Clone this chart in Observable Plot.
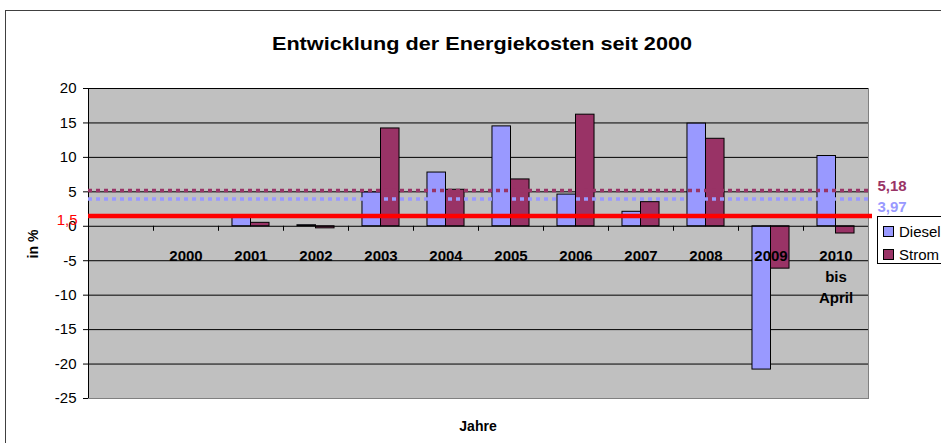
<!DOCTYPE html>
<html><head><meta charset="utf-8">
<script src="https://cdn.jsdelivr.net/npm/d3@7"></script>
<script src="https://cdn.jsdelivr.net/npm/@observablehq/plot@0.6"></script>
<style>
body{margin:0;background:#fff;font-family:"Liberation Sans",Arial,sans-serif;overflow:hidden;}
#wrap{position:relative;width:941px;height:443px;overflow:hidden;background:#fff;}
#border{position:absolute;left:5px;top:10px;width:1000px;height:500px;border:1.5px solid #404040;box-sizing:border-box;}
#chart{position:absolute;left:0;top:0;}
.abs{position:absolute;white-space:nowrap;line-height:1;color:#000;}
#title{left:482px;top:34px;transform:translateX(-50%) scaleX(1.14);font-weight:bold;font-size:19px;}
#xlab{left:478px;top:419px;transform:translateX(-50%);font-weight:bold;font-size:14px;}
#ylab{left:33px;top:244px;transform:translate(-50%,-50%) rotate(-90deg);font-weight:bold;font-size:14px;}
#legend{position:absolute;left:877px;top:216px;width:90px;height:48px;border:1px solid #000;background:#fff;box-sizing:border-box;}
.li{position:absolute;left:5px;font-size:15px;line-height:1;white-space:nowrap;}
.sw{display:inline-block;width:9px;height:9px;border:1px solid #000;margin-right:5px;vertical-align:0px;}
</style>
</head><body>
<div id="wrap">
  <div id="border"></div>
  <div id="chart"></div>
  <div id="title" class="abs">Entwicklung der Energiekosten seit 2000</div>
  <div id="xlab" class="abs">Jahre</div>
  <div id="ylab" class="abs">in %</div>
  <div id="legend"></div>
</div>
<script>
// Categories (first slot is an empty category, as in the original)
const categories = ["", "2000", "2001", "2002", "2003", "2004", "2005", "2006", "2007", "2008", "2009", "2010"];
const xLabels    = ["", "2000", "2001", "2002", "2003", "2004", "2005", "2006", "2007", "2008", "2009", "2010\nbis\nApril"];
const years      = ["2000", "2001", "2002", "2003", "2004", "2005", "2006", "2007", "2008", "2009", "2010"];
const diesel     = [0, 1.4, 0.15, 4.9, 7.8, 14.5, 4.6, 2.1, 14.9, -20.8, 10.2];
const strom      = [0, 0.5, -0.3, 14.2, 5.3, 6.8, 16.2, 3.5, 12.7, -6.15, -1.05];
const seriesNames = ["Diesel", "Strom"];
const seriesColors = ["#9999FF", "#993366"];
const avgValues = [5.18, 3.97];
const avgLabels = ["5,18", "3,97"];
const avgColors = ["#993366", "#9999FF"];
const target = 1.5;
const targetLabel = "1,5";
const yTicks = [-25, -20, -15, -10, -5, 0, 5, 10, 15, 20];
const gridValues = [-20, -15, -10, -5, 5, 10, 15, 20];

const W = 941, H = 443, ML = 88, MR = 73, MT = 88, MB = 45;
const bw = (W - ML - MR) / categories.length;
const barW = bw * 0.285;

const dRows = years.map((c, i) => ({cat: c, v: diesel[i]}));
const sRows = years.map((c, i) => ({cat: c, v: strom[i]}));

const chart = Plot.plot({
  width: W, height: H,
  marginLeft: ML, marginRight: MR, marginTop: MT, marginBottom: MB,
  style: {background: "transparent", fontFamily: "Liberation Sans, Arial, sans-serif", fontSize: "15px", color: "#000"},
  x: {type: "band", domain: categories, padding: 0, axis: null},
  y: {domain: [-25, 20], axis: null},
  marks: [
    Plot.frame({fill: "#C0C0C0", stroke: "#808080"}),
    Plot.ruleY(gridValues, {stroke: "#000", strokeWidth: 1}),
    Plot.barY(dRows, {x: "cat", y: "v", fill: seriesColors[0], stroke: "#000", strokeWidth: 1,
      insetLeft: bw / 2 - barW, insetRight: bw / 2}),
    Plot.barY(sRows, {x: "cat", y: "v", fill: seriesColors[1], stroke: "#000", strokeWidth: 1,
      insetLeft: bw / 2, insetRight: bw / 2 - barW}),
    Plot.ruleY([0], {stroke: "#000", strokeWidth: 1}),
    Plot.ruleX(categories.slice(1), {x: d => d, y1: 0, y2: 0, insetBottom: -5, dx: -bw / 2, stroke: "#000"}),
    Plot.ruleX(categories.slice(0, 1), {x: d => d, dx: -bw / 2, stroke: "#000"}),
    Plot.axisY({ticks: yTicks, tickFormat: d => String(d), tickSize: 5, tickPadding: 7, fontSize: 15, label: null, stroke: "#000", fill: "#000"}),
    Plot.ruleY([avgValues[0]], {stroke: avgColors[0], strokeWidth: 3.5, strokeDasharray: "4,4", insetRight: -4}),
    Plot.ruleY([avgValues[1]], {stroke: avgColors[1], strokeWidth: 3.5, strokeDasharray: "4,4", insetRight: -4}),
    Plot.ruleY([target], {stroke: "#FF0000", strokeWidth: 4.5, insetRight: -4}),
    Plot.text(xLabels, {x: categories, y: 0, text: d => d, dy: 20, lineAnchor: "top", lineHeight: 1.39,
      fontWeight: "bold", fontSize: 15, fill: "#000"}),
    Plot.text([0], {y: avgValues[0], frameAnchor: "right", text: () => avgLabels[0], textAnchor: "start",
      dx: 9, dy: -4.5, fill: avgColors[0], fontWeight: "bold", fontSize: 15}),
    Plot.text([0], {y: avgValues[1], frameAnchor: "right", text: () => avgLabels[1], textAnchor: "start",
      dx: 9, dy: 8, fill: avgColors[1], fontWeight: "bold", fontSize: 15}),
    Plot.text([0], {y: target, frameAnchor: "left", text: () => targetLabel, textAnchor: "end",
      dx: -11, dy: 4, fill: "#FF0000", fontSize: 15})
  ]
});
document.getElementById("chart").appendChild(chart);

const legend = document.getElementById("legend");
seriesNames.forEach((n, i) => {
  const d = document.createElement("div");
  d.className = "li";
  d.style.top = (7 + i * 23) + "px";
  d.innerHTML = `<span class="sw" style="background:${seriesColors[i]}"></span>${n}`;
  legend.appendChild(d);
});
</script>
</body></html>
